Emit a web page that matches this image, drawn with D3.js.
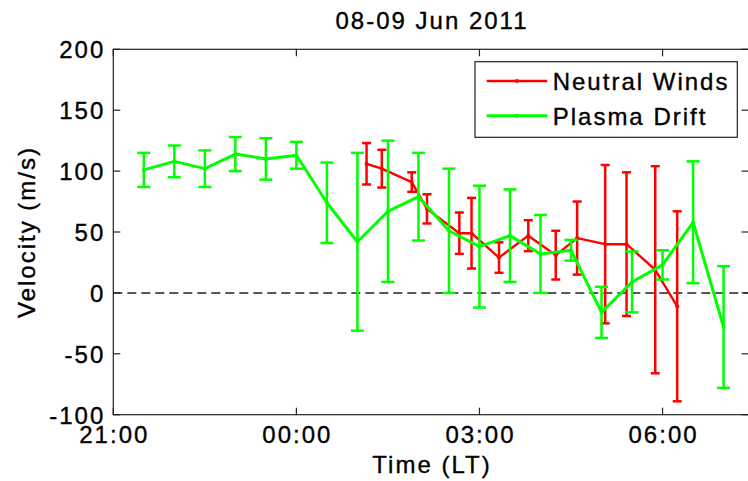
<!DOCTYPE html>
<html>
<head>
<meta charset="utf-8">
<script src="https://cdn.jsdelivr.net/npm/d3@7"></script>
<style>
  body { margin: 0; background: #fff; }
  text { font-family: "Liberation Sans", Arial, sans-serif; font-size: 24px; letter-spacing: 2px; fill: #000; stroke: #000; stroke-width: 0.35px; }
</style>
</head>
<body>
<svg width="748" height="481"></svg>
<script>
// hours counted from 21:00 of 08 Jun (24 = midnight)
var plasmaTime = [21.5, 22, 22.5, 23, 23.5, 24, 24.5, 25, 25.5, 26, 26.5, 27, 27.5, 28, 28.5, 29, 29.5, 30, 30.5, 31];
var plasmaVel  = [101, 108, 102, 114, 110, 113, 74, 42, 67, 79, 51, 38, 47, 32, 35, -16, 9, 23, 58, -28];
var plasmaErr  = [14, 13, 15, 14, 17, 11, 33, 73, 58, 36, 51, 50, 38, 32, 8.5, 21, 25, 12, 50, 50];

var windTime = [25.15, 25.4, 25.89, 26.14, 26.67, 26.87, 27.32, 27.8, 28.25, 28.6, 29.06, 29.41, 29.88, 30.24];
var windVel  = [106, 102, 91, 69, 49, 49, 29, 47, 31, 45, 40, 40, 19, -11];
var windErr  = [17, 15.5, 8, 12, 17, 29, 12.5, 12.7, 20, 30, 65, 59, 85, 78];

var xTicks = [21, 24, 27, 30];
var xTickLabels = ["21:00", "00:00", "03:00", "06:00"];
var yTicks = [-100, -50, 0, 50, 100, 150, 200];

var svg = d3.select("svg");

var x = d3.scaleLinear().domain([21, 31.41]).range([113.3, 748.6]);
var y = d3.scaleLinear().domain([-100, 200]).range([414.7, 49.3]);

var plotL = x.range()[0], plotR = x.range()[1],
    plotT = y.range()[1], plotB = y.range()[0];

// zero line
svg.append("line")
  .attr("x1", plotL).attr("x2", plotR)
  .attr("y1", y(0)).attr("y2", y(0))
  .style("stroke", "#222")
  .style("stroke-width", 1.5)
  .style("stroke-dasharray", "9,5");

function series(times, vals, errs, colour, lineW, capW) {
  var pts = times.map(function(t, i) { return {t: t, v: vals[i], e: errs[i]}; });
  var g = svg.append("g");

  var bars = g.selectAll(".bar").data(pts).enter().append("g");
  bars.append("line")
    .attr("x1", d => x(d.t)).attr("x2", d => x(d.t))
    .attr("y1", d => y(d.v + d.e)).attr("y2", d => y(d.v - d.e));
  bars.append("line")
    .attr("x1", d => x(d.t) - capW / 2).attr("x2", d => x(d.t) + capW / 2)
    .attr("y1", d => y(d.v + d.e)).attr("y2", d => y(d.v + d.e));
  bars.append("line")
    .attr("x1", d => x(d.t) - capW / 2).attr("x2", d => x(d.t) + capW / 2)
    .attr("y1", d => y(d.v - d.e)).attr("y2", d => y(d.v - d.e));
  bars.selectAll("line").style("stroke", colour).style("stroke-width", 2.5);

  g.append("path")
    .datum(pts)
    .attr("d", d3.line().x(d => x(d.t)).y(d => y(d.v)))
    .style("fill", "none")
    .style("stroke", colour)
    .style("stroke-width", lineW)
    .style("stroke-linejoin", "round");

  g.selectAll("circle").data(pts).enter().append("circle")
    .attr("cx", d => x(d.t)).attr("cy", d => y(d.v))
    .attr("r", 2)
    .style("fill", colour);
}

series(windTime, windVel, windErr, "#ff0000", 2.4, 9);
series(plasmaTime, plasmaVel, plasmaErr, "#00ff00", 3, 13);

// axes box and ticks (inward, mirrored on top/right)
var axisG = svg.append("g").style("stroke", "#222").style("stroke-width", 1.2);
axisG.append("rect")
  .attr("x", plotL).attr("y", plotT)
  .attr("width", plotR - plotL).attr("height", plotB - plotT)
  .style("fill", "none");

xTicks.forEach(function(t) {
  axisG.append("line").attr("x1", x(t)).attr("x2", x(t)).attr("y1", plotB).attr("y2", plotB - 7);
  axisG.append("line").attr("x1", x(t)).attr("x2", x(t)).attr("y1", plotT).attr("y2", plotT + 7);
});
yTicks.forEach(function(v) {
  axisG.append("line").attr("x1", plotL).attr("x2", plotL + 7).attr("y1", y(v)).attr("y2", y(v));
  axisG.append("line").attr("x1", plotR).attr("x2", plotR - 7).attr("y1", y(v)).attr("y2", y(v));
});

svg.selectAll(".ylab").data(yTicks).enter().append("text")
  .attr("x", plotL - 8)
  .attr("y", d => y(d) + 9)
  .attr("text-anchor", "end")
  .text(d => d);

svg.selectAll(".xlab").data(xTicks).enter().append("text")
  .attr("x", d => x(d) + 1)
  .attr("y", 443.3)
  .attr("text-anchor", "middle")
  .text((d, i) => xTickLabels[i]);

svg.append("text")
  .attr("x", 432)
  .attr("y", 28.5)
  .attr("text-anchor", "middle")
  .text("08-09 Jun 2011");

svg.append("text")
  .attr("x", 432)
  .attr("y", 473)
  .attr("text-anchor", "middle")
  .text("Time (LT)");

svg.append("text")
  .attr("transform", "translate(35," + ((plotT + plotB) / 2) + ") rotate(-90)")
  .attr("text-anchor", "middle")
  .text("Velocity (m/s)");

// legend
var legend = svg.append("g");
legend.append("rect")
  .attr("x", 475).attr("y", 61.7)
  .attr("width", 262.3).attr("height", 75.6)
  .style("fill", "#fff")
  .style("stroke", "#222")
  .style("stroke-width", 1.2);

var legendItems = [
  {name: "Neutral Winds", colour: "#ff0000", w: 2.4},
  {name: "Plasma Drift", colour: "#00ff00", w: 3}
];
legendItems.forEach(function(d, i) {
  var ry = 81 + i * 34.7;
  legend.append("line")
    .attr("x1", 486.7).attr("x2", 547.3).attr("y1", ry).attr("y2", ry)
    .style("stroke", d.colour).style("stroke-width", d.w);
  legend.append("circle")
    .attr("cx", 517).attr("cy", ry).attr("r", 2)
    .style("fill", d.colour);
  legend.append("text")
    .attr("x", 552.7).attr("y", ry + 9)
    .text(d.name);
});
</script>
</body>
</html>
